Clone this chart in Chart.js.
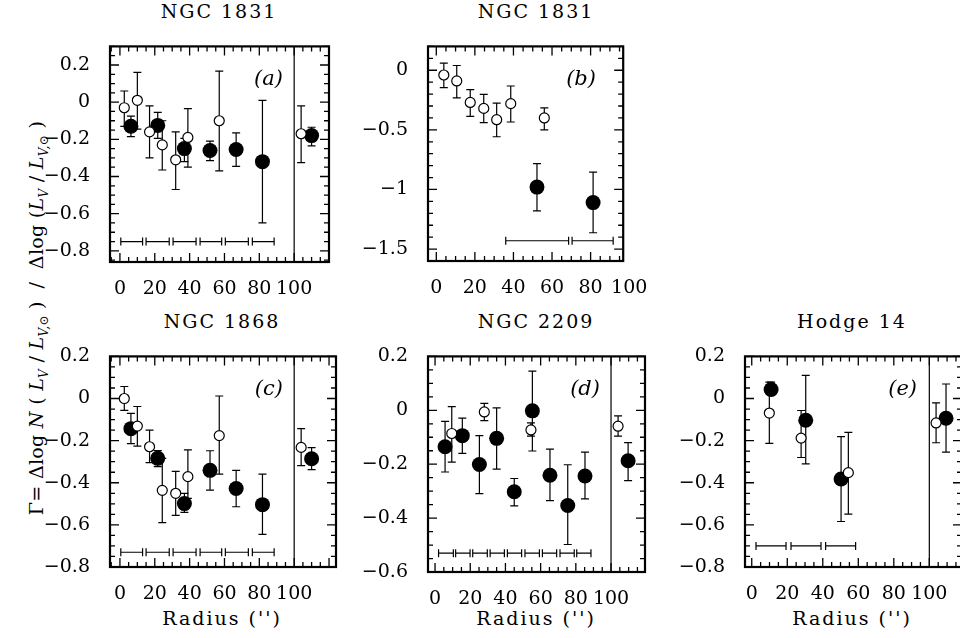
<!DOCTYPE html>
<html><head><meta charset="utf-8">
<script src="https://cdn.jsdelivr.net/npm/chart.js@4.4.1/dist/chart.umd.min.js"></script>
<style>
body{margin:0;background:#fff;width:960px;height:638px;overflow:hidden;position:relative;font-family:'DejaVu Serif',serif;}
canvas{position:absolute;}
.t{position:absolute;font-size:19px;letter-spacing:2px;transform:translateX(-50%);white-space:nowrap;color:#000}
#ylab{position:absolute;left:38px;top:318px;transform:translate(-50%,-50%) rotate(-90deg);font-size:19px;white-space:nowrap;letter-spacing:0.3px}
sub{font-size:12px}
</style></head><body>
<div class="t" style="left:219px;top:0px">NGC 1831</div>
<div class="t" style="left:536px;top:0px">NGC 1831</div>
<div class="t" style="left:222px;top:310px">NGC 1868</div>
<div class="t" style="left:536px;top:310px">NGC 2209</div>
<div class="t" style="left:852px;top:310px">Hodge 14</div>
<div class="t" style="left:222px;top:607px">Radius ('')</div>
<div class="t" style="left:536px;top:607px">Radius ('')</div>
<div class="t" style="left:852px;top:607px">Radius ('')</div>
<div id="ylab">Γ= Δlog <i>N</i> ( <i>L<sub>V</sub></i> / <i>L<sub>V,⊙</sub></i> ) &nbsp;/&nbsp; Δlog (<i>L<sub>V</sub></i> / <i>L<sub>V,⊙</sub></i> )</div>
<canvas id="ca"></canvas><canvas id="cb"></canvas><canvas id="cc"></canvas><canvas id="cd"></canvas><canvas id="ce"></canvas>
<script>
// ---- data ----
const xTickLabels = [0,20,40,60,80,100];
const yTicksStd = [0.2,0,-0.2,-0.4,-0.6,-0.8];
const yTicksB = [0,-0.5,-1,-1.5];
const yTicksD = [0.2,0,-0.2,-0.4,-0.6];

// (a) NGC 1831
const aOpenX = [2.5,10,17,24.3,32,39,57,104];
const aOpenY = [-0.03,0.01,-0.16,-0.23,-0.31,-0.19,-0.10,-0.17];
const aOpenHi = [0.06,0.16,-0.02,-0.10,-0.16,-0.035,0.167,-0.02];
const aOpenLo = [-0.13,-0.145,-0.30,-0.365,-0.47,-0.35,-0.37,-0.325];
const aFillX = [6.3,21.7,37,51.7,66.7,81.8,110];
const aFillY = [-0.13,-0.125,-0.25,-0.26,-0.255,-0.32,-0.18];
const aFillHi = [-0.075,-0.055,-0.195,-0.21,-0.165,0.01,-0.135];
const aFillLo = [-0.185,-0.195,-0.32,-0.315,-0.345,-0.65,-0.235];
const aBinLo = [0.5,15,30.5,46,60.5,76];
const aBinHi = [13,28.3,43.7,58.4,73.7,88.5];
const aBinY = -0.75;

// (b) NGC 1831
const bOpenX = [3.9,10.6,17.6,24.6,31.3,38.6,56];
const bOpenY = [-0.04,-0.09,-0.27,-0.32,-0.415,-0.28,-0.40];
const bOpenHi = [0.06,0.04,-0.163,-0.203,-0.276,-0.132,-0.316];
const bOpenLo = [-0.145,-0.232,-0.387,-0.439,-0.558,-0.434,-0.50];
const bFillX = [52.2,81.3];
const bFillY = [-0.98,-1.11];
const bFillHi = [-0.784,-0.855];
const bFillLo = [-1.179,-1.363];
const bBinLo = [36,70.4];
const bBinHi = [68.6,91.7];
const bBinY = -1.43;

// (c) NGC 1868
const cOpenX = [2.5,10,17,24.3,32,39,57,104];
const cOpenY = [0.0,-0.131,-0.229,-0.436,-0.45,-0.371,-0.176,-0.232];
const cOpenHi = [0.057,-0.038,-0.15,-0.284,-0.346,-0.244,0.012,-0.143];
const cOpenLo = [-0.056,-0.226,-0.304,-0.589,-0.555,-0.474,-0.359,-0.319];
const cFillX = [6.3,21.7,37,51.7,66.7,81.8,110];
const cFillY = [-0.143,-0.284,-0.499,-0.341,-0.427,-0.504,-0.286];
const cFillHi = [-0.071,-0.247,-0.45,-0.248,-0.341,-0.359,-0.233];
const cFillLo = [-0.214,-0.323,-0.541,-0.435,-0.514,-0.645,-0.338];
const cBinLo = aBinLo, cBinHi = aBinHi;
const cBinY = -0.73;

// (d) NGC 2209
const dOpenX = [9.5,28,54.5,104];
const dOpenY = [-0.086,-0.006,-0.073,-0.059];
const dOpenHi = [0.014,0.026,-0.047,-0.021];
const dOpenLo = [-0.192,-0.038,-0.096,-0.096];
const dFillX = [5.7,15.5,25.2,35,45,55.3,65.3,75.4,85.2,109.7];
const dFillY = [-0.135,-0.094,-0.201,-0.104,-0.302,-0.002,-0.241,-0.353,-0.244,-0.187];
const dFillHi = [-0.041,-0.029,-0.094,0.009,-0.253,0.145,-0.144,-0.202,-0.155,-0.12];
const dFillLo = [-0.229,-0.16,-0.309,-0.218,-0.355,-0.151,-0.335,-0.498,-0.329,-0.261];
const dBinLo = [2,11.7,21.4,31.3,41.1,51.1,61,71,80.5];
const dBinHi = [10.4,19.9,29.7,39.4,49.2,59.3,69.1,79.1,88.6];
const dBinY = -0.53;

// (e) Hodge 14
const eOpenX = [9.9,27.8,54.4,103.8];
const eOpenY = [-0.069,-0.188,-0.352,-0.116];
const eOpenHi = [0.078,-0.057,-0.161,-0.021];
const eOpenLo = [-0.213,-0.28,-0.549,-0.21];
const eFillX = [10.9,30.4,50.3,109.4];
const eFillY = [0.043,-0.103,-0.382,-0.094];
const eFillHi = [0.078,0.11,-0.181,0.069];
const eFillLo = [0.018,-0.31,-0.584,-0.255];
const eBinLo = [2.4,22.1,41.6];
const eBinHi = [19.3,39,58.5];
const eBinY = -0.7;

// ---- drawing ----
const FONT = 'DejaVu Serif';
const fmt = v => Math.abs(v) < 1e-9 ? '0' : String(+v.toFixed(2)).replace('-', '\u2212');

const framePlugin = {
  id: 'frame',
  beforeDatasetsDraw(chart, args, o) {
    const ctx = chart.ctx, xs = chart.scales.x, ys = chart.scales.y, a = chart.chartArea;
    ctx.save();
    ctx.strokeStyle = '#000'; ctx.lineWidth = 1.2;
    if (o.vline) {
      ctx.beginPath(); ctx.moveTo(xs.getPixelForValue(100), a.top); ctx.lineTo(xs.getPixelForValue(100), a.bottom); ctx.stroke();
    }
    const err = (X, Hi, Lo) => X.forEach((x, i) => {
      const px = xs.getPixelForValue(x), h = ys.getPixelForValue(Hi[i]), l = ys.getPixelForValue(Lo[i]);
      ctx.beginPath(); ctx.moveTo(px, h); ctx.lineTo(px, l);
      ctx.moveTo(px - 4, h); ctx.lineTo(px + 4, h); ctx.moveTo(px - 4, l); ctx.lineTo(px + 4, l); ctx.stroke();
    });
    err(o.openX, o.openHi, o.openLo);
    err(o.fillX, o.fillHi, o.fillLo);
    const by = ys.getPixelForValue(o.binY);
    o.binLo.forEach((lo, i) => {
      const p1 = xs.getPixelForValue(lo), p2 = xs.getPixelForValue(o.binHi[i]);
      ctx.beginPath(); ctx.moveTo(p1, by); ctx.lineTo(p2, by);
      ctx.moveTo(p1, by - 4); ctx.lineTo(p1, by + 4); ctx.moveTo(p2, by - 4); ctx.lineTo(p2, by + 4); ctx.stroke();
    });
    ctx.restore();
  },
  afterDatasetsDraw(chart, args, o) {
    const ctx = chart.ctx, xs = chart.scales.x, ys = chart.scales.y, a = chart.chartArea;
    ctx.save();
    ctx.strokeStyle = '#000'; ctx.lineWidth = 1.3;
    ctx.beginPath();
    const near = (v, s) => Math.abs(v / s - Math.round(v / s)) < 1e-6;
    for (let v = Math.ceil(xs.min / 5) * 5; v <= xs.max; v += 5) {
      const p = xs.getPixelForValue(v), L = near(v, 20) ? 9 : 5;
      ctx.moveTo(p, a.bottom); ctx.lineTo(p, a.bottom - L); ctx.moveTo(p, a.top); ctx.lineTo(p, a.top + L);
    }
    for (let k = Math.ceil(ys.min / o.yMinor - 1e-6); k * o.yMinor <= ys.max + 1e-9; k++) {
      const v = k * o.yMinor, p = ys.getPixelForValue(v), L = near(v, o.yMajor) ? 9 : 5;
      ctx.moveTo(a.left, p); ctx.lineTo(a.left + L, p); ctx.moveTo(a.right, p); ctx.lineTo(a.right - L, p);
    }
    ctx.stroke();
    ctx.lineWidth = 2.2;
    ctx.strokeRect(a.left, a.top, a.right - a.left, a.bottom - a.top);
    ctx.font = 'italic 21px ' + FONT; ctx.fillStyle = '#000'; ctx.textAlign = 'right'; ctx.textBaseline = 'middle';
    ctx.fillText(o.label, a.left + o.labelX, a.top + 33);
    ctx.restore();
  }
};

function panel(id, box, xr, yr, yTicks, yMajor, yMinor, d) {
  const padL = 72, padT = 10, padR = 10, padB = 45;
  const cv = document.getElementById(id);
  const W = box[2] - box[0] + padL + padR, H = box[3] - box[1] + padT + padB;
  cv.style.left = (box[0] - padL) + 'px'; cv.style.top = (box[1] - padT) + 'px';
  cv.style.width = W + 'px'; cv.style.height = H + 'px'; cv.width = W; cv.height = H;
  const pts = (X, Y) => X.map((x, i) => ({x, y: Y[i]}));
  new Chart(cv, {
    type: 'scatter',
    data: { datasets: [
      { data: pts(d.openX, d.openY), pointRadius: 5, pointBackgroundColor: '#fff', pointBorderColor: '#000', pointBorderWidth: 1.2 },
      { data: pts(d.fillX, d.fillY), pointRadius: 7.5, pointBackgroundColor: '#000', pointBorderColor: '#000', pointBorderWidth: 0 }
    ]},
    options: {
      responsive: false, animation: false, devicePixelRatio: 1,
      layout: { padding: { top: padT, right: padR, left: 0, bottom: 0 } },
      plugins: { legend: { display: false }, tooltip: { enabled: false }, frame: Object.assign({ yMajor, yMinor }, d) },
      scales: {
        x: { type: 'linear', min: xr[0], max: xr[1], grid: { display: false }, border: { display: false },
             afterFit: s => { s.height = padB; },
             afterBuildTicks: s => { s.ticks = xTickLabels.map(v => ({ value: v })); },
             ticks: { color: '#000', font: { family: FONT, size: 19 }, padding: 8, maxRotation: 0, autoSkip: false, callback: v => String(v) } },
        y: { type: 'linear', min: yr[0], max: yr[1], grid: { display: false }, border: { display: false },
             afterFit: s => { s.width = padL; },
             afterBuildTicks: s => { s.ticks = yTicks.map(v => ({ value: v })); },
             ticks: { color: '#000', font: { family: FONT, size: 19 }, padding: 12, autoSkip: false, callback: v => fmt(v) } }
      }
    },
    plugins: [framePlugin]
  });
}

panel('ca', [110,33,329,262], [-5.7,120], [-0.86,0.3], yTicksStd, 0.2, 0.05,
  { openX: aOpenX, openY: aOpenY, openHi: aOpenHi, openLo: aOpenLo, fillX: aFillX, fillY: aFillY, fillHi: aFillHi, fillLo: aFillLo, binLo: aBinLo, binHi: aBinHi, binY: aBinY, vline: true, label: '(a)', labelX: 173 });
panel('cb', [428,33,645,261], [-4.3,96.9], [-1.6,0.2], yTicksB, 0.5, 0.1,
  { openX: bOpenX, openY: bOpenY, openHi: bOpenHi, openLo: bOpenLo, fillX: bFillX, fillY: bFillY, fillHi: bFillHi, fillLo: bFillLo, binLo: bBinLo, binHi: bBinHi, binY: bBinY, vline: false, label: '(b)', labelX: 168 });
panel('cc', [110,343,336,567], [-5.7,124], [-0.8,0.2], yTicksStd, 0.2, 0.05,
  { openX: cOpenX, openY: cOpenY, openHi: cOpenHi, openLo: cOpenLo, fillX: cFillX, fillY: cFillY, fillHi: cFillHi, fillLo: cFillLo, binLo: cBinLo, binHi: cBinHi, binY: cBinY, vline: true, label: '(c)', labelX: 173 });
panel('cd', [428,343,645,572], [-4,119.3], [-0.6,0.2], yTicksD, 0.2, 0.05,
  { openX: dOpenX, openY: dOpenY, openHi: dOpenHi, openLo: dOpenLo, fillX: dFillX, fillY: dFillY, fillHi: dFillHi, fillLo: dFillLo, binLo: dBinLo, binHi: dBinHi, binY: dBinY, vline: true, label: '(d)', labelX: 172 });
panel('ce', [745,343,962,567], [-3.8,118.4], [-0.8,0.2], yTicksStd, 0.2, 0.05,
  { openX: eOpenX, openY: eOpenY, openHi: eOpenHi, openLo: eOpenLo, fillX: eFillX, fillY: eFillY, fillHi: eFillHi, fillLo: eFillLo, binLo: eBinLo, binHi: eBinHi, binY: eBinY, vline: true, label: '(e)', labelX: 172 });
</script>
</body></html>
